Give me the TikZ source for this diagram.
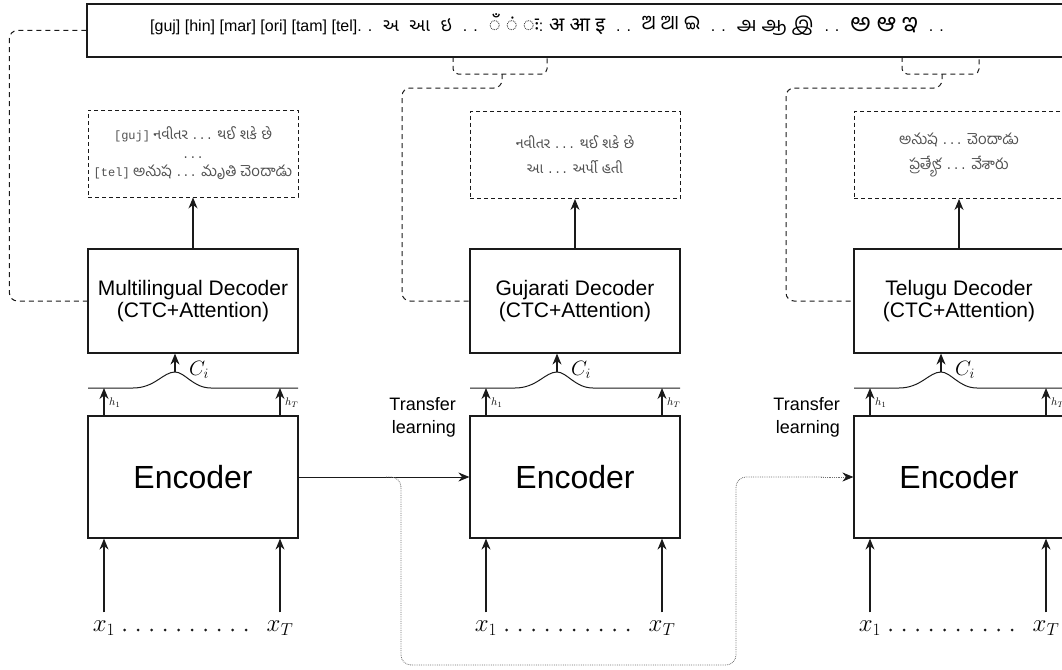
\documentclass[tikz,border=0pt]{standalone}
\usepackage{fontspec}
\setmainfont{Liberation Sans}
\setmonofont{Liberation Mono}
\newfontfamily\gujfont[Script=Gujarati,Scale=1.2]{Noto Sans Gujarati UI}
\newfontfamily\devfont[Script=Devanagari]{Noto Sans}
\newfontfamily\orifont[Script=Oriya]{Noto Sans Oriya UI}
\newfontfamily\tamfont[Script=Tamil]{Hind Madurai}
\newfontfamily\telfont[Script=Telugu,Scale=1.25]{Hind Guntur}
\usepackage{tikz}
\usetikzlibrary{arrows.meta,positioning,calc}
\definecolor{boxline}{HTML}{1A1A1A}
\definecolor{sampletext}{HTML}{505050}
\definecolor{dotgray}{HTML}{707070}
\newcommand{\scr}{\fontsize{20}{21}\selectfont}
\newcommand{\gsep}{\hspace{11pt}. .\hspace{11pt}}

\begin{document}
\begin{tikzpicture}[x=1pt,y=-1pt,
  font=\fontsize{21}{22}\selectfont,
  topbox/.style={draw=boxline,line width=1.2pt,minimum width=1000pt,
               minimum height=53pt,inner sep=0pt},
  decbox/.style={draw=boxline,line width=1.2pt,minimum width=210pt,
               minimum height=104pt,align=center,inner sep=0pt},
  encbox/.style={draw=boxline,line width=1.2pt,minimum width=210pt,
               minimum height=122pt,inner sep=0pt,
               font=\fontsize{32}{36}\selectfont},
  outbox/.style={draw=boxline,line width=0.9pt,dash pattern=on 4pt off 3pt,
               minimum width=210pt,minimum height=87pt,align=center,
               inner sep=0pt,text=sampletext,font=\fontsize{12}{18.5}\selectfont},
  tlabel/.style={font=\fontsize{18}{23}\selectfont,align=right,anchor=east,
               inner sep=0pt},
  arr/.style={-{Stealth[length=11pt,width=9pt]},line width=1.2pt,draw=boxline},
  linkline/.style={line width=1pt,dash pattern=on 5pt off 4pt,
               rounded corners=8pt,draw=boxline},
  dotline/.style={line width=0.8pt,densely dotted,draw=dotgray,
               rounded corners=10pt}
]
\useasboundingbox (0,0) rectangle (1062,669);
\clip (0,0) rectangle (1062,669);

\node[topbox] (vocab) at (587,30.5) {};
\node[font=\fontsize{16}{18}\selectfont,anchor=west,inner sep=0pt] (vocabtxt) at (150,25)
  {[guj] [hin] [mar] [ori] [tam] [tel]. .\hspace{11pt}{\gujfont\fontsize{15}{18}\selectfont અ\hspace{5pt} આ\hspace{5pt} ઇ}\gsep{\devfont\scr ँ ं ः}: {\devfont\scr अ आ इ}\gsep{\orifont\scr ଅ ଆ ଇ}\gsep{\tamfont\scr அ ஆ இ}\gsep{\telfont\scr అ ఆ ఇ}\hspace{11pt}. .};

\node[decbox] (dec1) at (193,301) {Multilingual Decoder\\(CTC+Attention)};
\node[decbox] (dec2) at (575,301) {Gujarati Decoder\\(CTC+Attention)};
\node[decbox] (dec3) at (959,301) {Telugu Decoder\\(CTC+Attention)};

\node[encbox] (enc1) at (193,477) {Encoder};
\node[encbox] (enc2) at (575,477) {Encoder};
\node[encbox] (enc3) at (959,477) {Encoder};

\node[outbox] (out1) at (193,153.5)
  {\texttt{[guj]} {\gujfont નવીતર} \texttt{...} {\gujfont થઈ શકે છે}\\
   \texttt{...}\\
   \texttt{[tel]} {\telfont అనుష} \texttt{...} {\telfont మృతి చెందాడు}};
\node[outbox,font=\fontsize{12}{25}\selectfont] (out2) at (575,155)
  {{\gujfont નવીતર} \texttt{...} {\gujfont થઈ શકે છે}\\
   {\gujfont આ} \texttt{...} {\gujfont અર્પી હતી}};
\node[outbox,font=\fontsize{12}{25}\selectfont] (out3) at (959,155)
  {{\telfont అనుష} \texttt{...} {\telfont చెందాడు}\\
   {\telfont ప్రత్యేక} \texttt{...} {\telfont వేశారు}};

\draw[arr] (dec1.north) -- (out1.south);
\draw[arr] (dec2.north) -- (out2.south);
\draw[arr] (dec3.north) -- (out3.south);

\foreach \i/\lx in {1/88,2/470,3/854} {
  \draw[line width=1pt,draw=boxline] (\lx,388) -- ++(45,0)
    .. controls +(22,0) and +(-12,0) .. ++(42,-16) coordinate (peak\i)
    .. controls +(10,0) and +(-18,0) .. ++(36,16) -- (\lx+210,388);
  \draw[arr] (peak\i) -- (peak\i |- dec\i.south);
  \node[font=\fontsize{21}{21}\selectfont] (ci\i) at ($(peak\i)+(24,-2)$) {$C_i$};
  \coordinate (hone\i) at (\lx+16,388);
  \coordinate (htee\i) at (\lx+192,388);
  \draw[arr] (hone\i |- enc\i.north) -- (hone\i);
  \draw[arr] (htee\i |- enc\i.north) -- (htee\i);
  \node[font=\fontsize{11}{11}\selectfont,anchor=west,inner sep=1pt] (hlone\i)
    at ($(hone\i)+(4,15)$) {$h_1$};
  \node[font=\fontsize{11}{11}\selectfont,anchor=west,inner sep=1pt] (hltee\i)
    at ($(htee\i)+(4,15)$) {$h_T$};
  \node[font=\fontsize{24}{24}\selectfont] (xone\i) at (\lx+16,628) {$x_1$};
  \node[font=\fontsize{24}{24}\selectfont] (xtee\i) at (\lx+192,628) {$x_T$};
  \draw[arr] ($(xone\i.north)+(0,-5)$) -- (xone\i |- enc\i.south);
  \draw[arr] ($(xtee\i.north)+(0,-5)$) -- (xtee\i |- enc\i.south);
  \draw[line width=3pt,line cap=round,dash pattern=on 0pt off 13.5pt,
        draw=boxline,shorten <=6pt,shorten >=6pt]
    ($(xone\i.east)+(0,2)$) -- ($(xtee\i.west)+(0,2)$);
}

\draw[linkline] (vocab.west) -- ++(-77,0) |- (dec1.west);

\coordinate (gujl) at (453,57);
\coordinate (gujr) at (547,57);
\coordinate (gujm) at (502,74);
\draw[linkline,rounded corners=5pt] (gujl) |- (gujm) -| (gujr);
\draw[linkline] (gujm) |- (402,88) |- (dec2.west);

\coordinate (tell) at (902,57);
\coordinate (telr) at (979,57);
\coordinate (telm) at (942,74);
\draw[linkline,rounded corners=5pt] (tell) |- (telm) -| (telr);
\draw[linkline] (telm) |- (786,88) |- (dec3.west);

\draw[-{Stealth[length=11pt,width=9pt]},line width=0.9pt,draw=boxline]
  (enc1.east) -- (enc2.west);
\coordinate (split) at (386,477);
\draw[dotline] (split) -- (401,477) -- (401,665) -- (736,665) -- (736,477)
  -- ($(enc3.west)+(-30,0)$);
\draw[-{Stealth[length=11pt,width=9pt,color=boxline]},line width=0.8pt,
      densely dotted,draw=dotgray]
  ($(enc3.west)+(-32,0)$) -- (enc3.west);

\node[tlabel] (tl1) at (456,417) {Transfer\\learning};
\node[tlabel] (tl2) at (840,417) {Transfer\\learning};
\end{tikzpicture}
\end{document}
